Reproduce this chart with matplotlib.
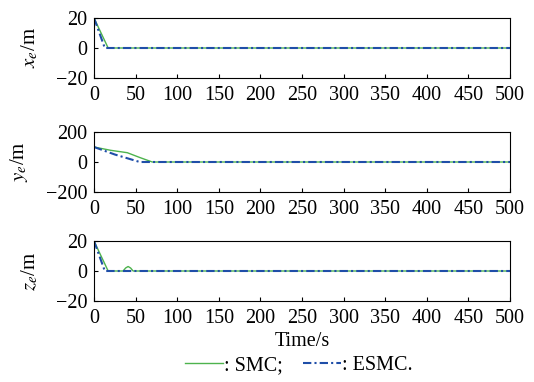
import matplotlib
matplotlib.use('Agg')
import matplotlib.pyplot as plt
import numpy as np

plt.rcParams['font.family'] = ['Liberation Serif', 'DejaVu Serif']
plt.rcParams['mathtext.fontset'] = 'stix'

# data (breakpoints, time in s)
t_x_smc = [0, 17, 500];   x_smc = [20, 0, 0]
t_x_esmc = [0, 13, 500];  x_esmc = [20, 0, 0]
t_y_smc = [0, 20, 40, 55, 70, 500];  y_smc = [100, 78, 62, 30, 0, 0]
t_y_esmc = [0, 25, 55, 500];         y_esmc = [100, 50, 0, 0]
t_z_smc = [0, 17, 35, 38, 41, 44, 47, 500]; z_smc = [20, 0, 0, 2, 3, 2, 0, 0]
t_z_esmc = [0, 13, 500];  z_esmc = [20, 0, 0]

ylabels = [r'$x_e$/m', r'$y_e$/m', r'$z_e$/m']
ylims = [(-20, 20), (-200, 200), (-20, 20)]
yticks = [[-20, 0, 20], [-200, 0, 200], [-20, 0, 20]]
series = [(t_x_smc, x_smc, t_x_esmc, x_esmc),
          (t_y_smc, y_smc, t_y_esmc, y_esmc),
          (t_z_smc, z_smc, t_z_esmc, z_esmc)]

green = '#4db34d'
blue = '#1f4ea8'
fs = 14.5

fig = plt.figure(figsize=(5.34, 3.82), dpi=100)
tops = [18, 132, 241]
h = 60
for i in range(3):
    ax = fig.add_axes([94/534, 1 - (tops[i] + h)/382, 416/534, h/382])
    ts, ys, te, ye = series[i]
    l1, = ax.plot(ts, ys, color=green, lw=1.0)
    l2, = ax.plot(te, ye, color=blue, lw=1.5, ls=(0, (4, 1.5, 1, 1.5)))
    ax.set_xlim(0, 500)
    ax.set_ylim(*ylims[i])
    ax.set_yticks(yticks[i])
    ax.set_xticks(range(0, 501, 50))
    ax.tick_params(direction='in', labelsize=fs, length=3)
    ax.tick_params(axis='x', pad=6)
    ax.tick_params(axis='y', pad=5)
    ax.set_ylabel(ylabels[i], fontsize=fs + 0.5, labelpad=11)
    if i == 2:
        ax.set_xlabel('Time/s', fontsize=fs, labelpad=3)

fig.legend([l1, l2], [': SMC;', ': ESMC.'], loc='lower center', ncol=2,
           bbox_to_anchor=(0.56, -0.03), frameon=False, fontsize=fs,
           handlelength=1.9, handletextpad=0.05, columnspacing=1.0)

fig.savefig('out.png', dpi=100)
